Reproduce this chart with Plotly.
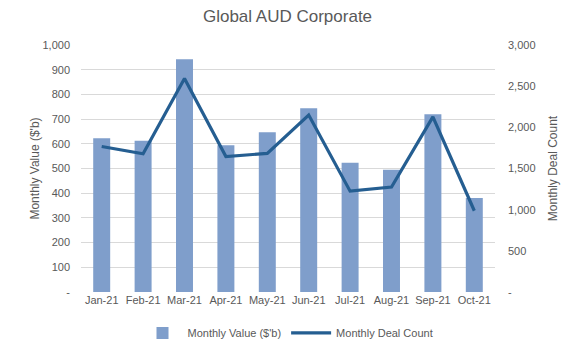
import plotly.graph_objects as go

months = ["Jan-21", "Feb-21", "Mar-21", "Apr-21", "May-21", "Jun-21", "Jul-21", "Aug-21", "Sep-21", "Oct-21"]
monthly_value = [622, 612, 942, 594, 647, 744, 523, 495, 720, 381]
deal_count = [1767, 1678, 2593, 1646, 1683, 2150, 1225, 1274, 2127, 987]

left_ticks = list(range(0, 1001, 100))
left_text = ["-"] + [f"{v:,}" for v in left_ticks[1:]]
right_ticks = list(range(0, 3001, 500))
right_text = ["-"] + [f"{v:,}" for v in right_ticks[1:]]

font_family = "Liberation Sans, Arial, sans-serif"
grey = "#595959"

fig = go.Figure()
fig.add_trace(go.Bar(
    x=months, y=monthly_value, name="Monthly Value ($'b)",
    marker=dict(color="#7f9ecb", line=dict(width=0)), yaxis="y",
))
fig.add_trace(go.Scatter(
    x=months, y=deal_count, name="Monthly Deal Count", mode="lines",
    line=dict(color="#255e91", width=3.2), yaxis="y2",
))

fig.update_layout(
    width=575, height=349,
    margin=dict(l=81, r=80, t=45, b=57, autoexpand=False),
    paper_bgcolor="white", plot_bgcolor="white",
    font=dict(family=font_family, color=grey, size=11),
    title=dict(text="Global AUD Corporate", x=0.5, xanchor="center", y=0.953, yanchor="middle",
               font=dict(size=17, color=grey, family=font_family)),
    bargap=0.59,
    showlegend=True,
    legend=dict(orientation="h", x=0.5, xanchor="center", yref="container", y=0.046, yanchor="middle",
                font=dict(size=11, color=grey), itemwidth=40, tracegroupgap=0),
    xaxis=dict(showgrid=False, showline=False, ticks="", tickfont=dict(size=11, color=grey)),
    yaxis=dict(range=[0, 1000], tickvals=left_ticks, ticktext=left_text,
               showgrid=True, gridcolor="#d9d9d9", gridwidth=1, zeroline=False,
               showline=False, ticks="", ticklabelstandoff=10,
               title=dict(text="Monthly Value ($'b)", font=dict(size=12, color=grey), standoff=0),
               tickfont=dict(size=11, color=grey)),
    yaxis2=dict(range=[0, 3000], tickvals=right_ticks, ticktext=right_text,
                overlaying="y", side="right", showgrid=False, zeroline=False,
                showline=False, ticks="", ticklabelstandoff=12,
                title=dict(text="Monthly Deal Count", font=dict(size=12, color=grey), standoff=14),
                tickfont=dict(size=11, color=grey)),
)

fig.write_html("out.html")
